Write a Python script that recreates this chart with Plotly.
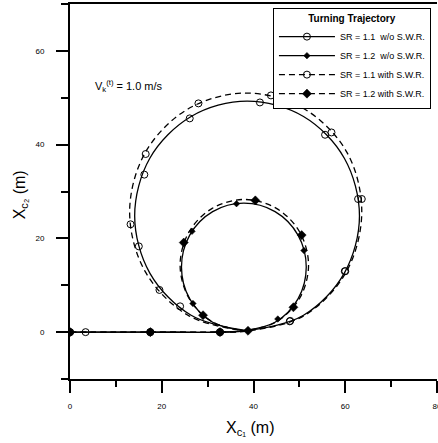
import plotly.graph_objects as go

# Turning trajectories of the vehicle centre (X_c1, X_c2) in metres
# SR = 1.1 without S.W.R.
sr11_wo_x = [0, 17.5, 32.7, 38.6, 50.9, 59.8, 63.1, 59.8, 50.9, 38.6, 26.4, 17.4, 14.1, 17.4, 26.4, 38.6]
sr11_wo_y = [0, 0, 0, 0.3, 3.6, 12.6, 24.8, 37.1, 46.0, 49.3, 46.0, 37.1, 24.8, 12.6, 3.6, 0.3]
sr11_wo_mx = [0, 3.4, 17.5, 32.7, 47.9, 59.9, 62.8, 55.6, 41.4, 26.1, 16.2, 15.0, 24.0]
sr11_wo_my = [0, 0, 0, 0, 2.3, 13.0, 28.4, 42.1, 49.0, 45.6, 33.6, 18.3, 5.5]

# SR = 1.2 without S.W.R.
sr12_wo_x = [0, 17.5, 32.0, 37.9, 44.7, 49.7, 51.5, 49.7, 44.7, 37.9, 31.1, 26.1, 24.3, 26.1, 31.1, 37.9]
sr12_wo_y = [0, 0, 0, 0.3, 2.1, 7.1, 13.9, 20.7, 25.7, 27.5, 25.7, 20.7, 13.9, 7.1, 2.1, 0.3]
sr12_wo_mx = [0, 17.5, 32.7, 45.3, 51.0, 36.3, 26.6, 26.8]
sr12_wo_my = [0, 0, 0, 2.8, 17.4, 27.4, 21.5, 6.1]

# SR = 1.1 with S.W.R.
sr11_w_x = [0, 17.5, 32.7, 38.4, 51.0, 60.2, 63.6, 60.4, 51.1, 38.4, 25.7, 16.4, 13.0, 16.4, 25.7, 38.4]
sr11_w_y = [0, 0, 0, 0.2, 3.5, 12.8, 25.6, 38.3, 47.6, 51.0, 47.6, 38.3, 25.6, 12.9, 3.6, 0.2]
sr11_w_mx = [0, 17.5, 32.7, 48.0, 60.0, 63.6, 57.0, 43.8, 28.0, 16.5, 13.2, 19.5]
sr11_w_my = [0, 0, 0, 2.4, 13.0, 28.4, 42.6, 50.5, 48.8, 38.0, 23.0, 9.0]

# SR = 1.2 with S.W.R.
sr12_w_x = [0, 17.5, 32.0, 38.0, 45.0, 50.1, 52.0, 50.1, 45.0, 38.0, 31.0, 25.9, 24.0, 25.9, 31.0, 38.0]
sr12_w_y = [0, 0, 0, 0.3, 2.2, 7.3, 14.3, 21.3, 26.4, 28.3, 26.4, 21.3, 14.3, 7.3, 2.2, 0.3]
sr12_w_mx = [0, 17.5, 32.7, 38.8, 48.7, 50.5, 40.4, 24.8, 29.0]
sr12_w_my = [0, 0, 0, 0.3, 5.3, 20.7, 28.1, 19.1, 3.6]

series_names = [
    "SR = 1.1  w/o S.W.R.",
    "SR = 1.2  w/o S.W.R.",
    "SR = 1.1 with S.W.R.",
    "SR = 1.2 with S.W.R.",
]

x_ticks = [0, 20, 40, 60, 80]
x_minor = [10, 30, 50, 70]
y_ticks = [0, 20, 40, 60]
y_minor = [-10, 10, 30, 50, 70]

FONT = "Liberation Sans Narrow, Arial Narrow, Liberation Sans, Arial, sans-serif"

series = [
    (sr11_wo_x, sr11_wo_y, sr11_wo_mx, sr11_wo_my, "solid",
     dict(symbol="circle-open", size=7, color="black", line=dict(width=1, color="black"))),
    (sr12_wo_x, sr12_wo_y, sr12_wo_mx, sr12_wo_my, "solid",
     dict(symbol="diamond", size=5, color="black", line=dict(width=0.5, color="black"))),
    (sr11_w_x, sr11_w_y, sr11_w_mx, sr11_w_my, "6px,4px",
     dict(symbol="circle-open", size=7, color="black", line=dict(width=1, color="black"))),
    (sr12_w_x, sr12_w_y, sr12_w_mx, sr12_w_my, "6px,4px",
     dict(symbol="diamond", size=7, color="black", line=dict(width=0.5, color="black"))),
]

fig = go.Figure()
for name, (px, py, mx, my, dash, mk) in zip(series_names, series):
    line = dict(color="black", width=1.3, dash=dash, shape="spline", smoothing=1.0)
    fig.add_trace(go.Scatter(x=px, y=py, mode="lines", line=line,
                             legendgroup=name, showlegend=False, hoverinfo="skip"))
    fig.add_trace(go.Scatter(x=mx, y=my, mode="markers", marker=mk,
                             legendgroup=name, showlegend=False))
    fig.add_trace(go.Scatter(x=[None], y=[None], mode="lines+markers", name=name,
                             legendgroup=name,
                             line=dict(color="black", width=1.3, dash=dash), marker=mk))

axis_common = dict(
    showgrid=False, zeroline=False, showline=True, linecolor="black", linewidth=2,
    ticks="outside", tickcolor="black", tickwidth=1.5, ticklen=12,
    tickfont=dict(family=FONT, size=8, color="black"),
    ticklabeloverflow="allow", automargin=False,
)

fig.update_xaxes(range=[0, 80], tickvals=x_ticks, mirror=True,
                 minor=dict(tickvals=x_minor, ticks="outside", ticklen=6,
                            tickwidth=1.5, tickcolor="black"),
                 ticklabelstandoff=6, **axis_common)
fig.update_yaxes(range=[-10, 70], tickvals=y_ticks,
                 minor=dict(tickvals=y_minor, ticks="outside", ticklen=7,
                            tickwidth=1.5, tickcolor="black"),
                 ticklabelstandoff=10, **axis_common)

fig.add_annotation(text="X<sub>c₁</sub> (m)", xref="paper", yref="paper",
                   x=0.49, y=-0.131, xanchor="center", yanchor="middle",
                   showarrow=False, font=dict(family="Liberation Sans, Arial", size=16, color="black"))
fig.add_annotation(text="X<sub>c₂</sub> (m)", xref="paper", yref="paper",
                   x=-0.136, y=0.49, xanchor="center", yanchor="middle", textangle=-90,
                   showarrow=False, font=dict(family="Liberation Sans, Arial", size=16, color="black"))
fig.add_annotation(text="V<sub>k</sub><sup>(t)</sup> = 1.0 m/s", x=5, y=52.5,
                   xanchor="left", yanchor="middle", showarrow=False,
                   font=dict(family=FONT, size=11, color="black"))

fig.update_layout(
    width=438, height=443,
    margin=dict(l=70, r=1, t=4, b=64, autoexpand=False),
    plot_bgcolor="white", paper_bgcolor="white",
    font=dict(family=FONT, color="black"),
    legend=dict(
        x=0.553, y=0.989, xanchor="left", yanchor="top",
        bgcolor="white", bordercolor="black", borderwidth=1,
        itemwidth=56,
        title=dict(text="<b>Turning Trajectory</b>", side="top center",
                   font=dict(family=FONT, size=10, color="black")),
        font=dict(family=FONT, size=9, color="black"),
        tracegroupgap=0,
    ),
)

fig.write_html("out.html")
